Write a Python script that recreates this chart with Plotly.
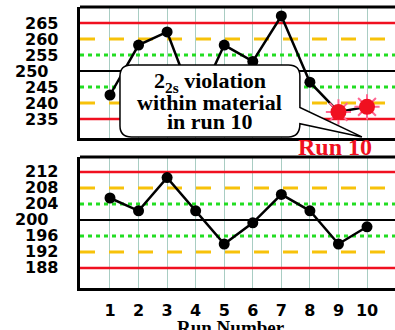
import plotly.graph_objects as go

runs = list(range(1, 11))
top_values = [242.5, 258.1, 262.2, 238.8, 258.1, 253.0, 267.2, 246.5, 237.2, 238.8]
bottom_values = [205.5, 202.3, 210.6, 202.3, 194.0, 199.3, 206.4, 202.3, 194.0, 198.3]
violation_runs = [9, 10]
top_mean, top_sd = 250, 5
bottom_mean, bottom_sd = 200, 4
top_ticks = [235, 240, 245, 250, 255, 260, 265]
bottom_ticks = [188, 192, 196, 200, 204, 208, 212]
x_ticks = runs
x_range = [-0.05, 10.98]

RED = "#f01020"
GOLD = "#f7c20a"
GREEN = "#22dd22"
GRID = "#a9cdc3"
TICKFONT = dict(family="DejaVu Sans", size=16, color="black", weight="bold")
SERIF = "Liberation Serif"

fig = go.Figure()

def ref_lines(mean, sd, xa, ya):
    specs = [(mean, "black", 2, "solid")]
    for k, col, w, dash in [(1, GREEN, 3, "4px,4px"), (2, GOLD, 3, "15px,14px"), (3, RED, 2.5, "solid")]:
        specs.append((mean + k * sd, col, w, dash))
        specs.append((mean - k * sd, col, w, dash))
    for y, col, w, dash in specs:
        fig.add_trace(go.Scatter(x=x_range, y=[y, y], mode="lines", line=dict(color=col, width=w, dash=dash),
                                 xaxis=xa, yaxis=ya, showlegend=False, hoverinfo="skip"))

ref_lines(top_mean, top_sd, "x", "y")
ref_lines(bottom_mean, bottom_sd, "x2", "y2")

# data traces
fig.add_trace(go.Scatter(x=runs, y=top_values, mode="lines", line=dict(color="black", width=2.5),
                         xaxis="x", yaxis="y", showlegend=False, hoverinfo="skip"))
fig.add_trace(go.Scatter(x=runs[:8], y=top_values[:8], mode="markers",
                         marker=dict(color="black", size=11), xaxis="x", yaxis="y", showlegend=False))
viol_y = [top_values[r - 1] for r in violation_runs]
fig.add_trace(go.Scatter(x=violation_runs, y=viol_y, mode="markers",
                         marker=dict(symbol="asterisk-open", size=21, line=dict(color=RED, width=2)),
                         xaxis="x", yaxis="y", showlegend=False))
fig.add_trace(go.Scatter(x=violation_runs, y=viol_y, mode="markers",
                         marker=dict(symbol="circle", color=RED, size=16, line=dict(width=0)),
                         xaxis="x", yaxis="y", showlegend=False))
fig.add_trace(go.Scatter(x=runs, y=bottom_values, mode="lines+markers",
                         line=dict(color="black", width=2.5), marker=dict(color="black", size=11),
                         xaxis="x2", yaxis="y2", showlegend=False))

shapes = []
# top borders of both panels
for xr, yr in [("x", "y"), ("x2", "y2")]:
    shapes.append(dict(type="line", xref=xr + " domain", yref=yr + " domain", x0=0, x1=1, y0=1, y1=1,
                       line=dict(color="black", width=3), layer="above"))

# callout bubble (data coords of top panel)
L, R, T, B = 1.35, 7.65, 251.9, 229.4
rx, ry = 0.4, 3.5
tail_top, tail_bot = 238.6, 233.5
tip_x, tip_y = 9.82, 229.4
path = (f"M {L+rx},{T} L {R-rx},{T} Q {R},{T} {R},{T-ry} L {R},{tail_top} L {tip_x},{tip_y} "
        f"L {R},{tail_bot} Q {R},{B} {R-rx},{B} L {L+rx},{B} Q {L},{B} {L},{B+ry} "
        f"L {L},{T-ry} Q {L},{T} {L+rx},{T} Z")
shapes.append(dict(type="path", xref="x", yref="y", path=path, fillcolor="white",
                   line=dict(color="black", width=1.5), layer="above"))

annotations = []
# y tick labels as annotations (right edge 20px left of the axis; mean label a bit further left)
PLOT_W = 395 - 80
for ticks, mean, yref in [(top_ticks, top_mean, "y"), (bottom_ticks, bottom_mean, "y2")]:
    for v in ticks:
        off = 30 if v == mean else 20
        annotations.append(dict(x=-off / PLOT_W, y=v, xref="paper", yref=yref, text=str(v),
                                showarrow=False, xanchor="right", yanchor="middle", font=TICKFONT))

callout_lines = ["2<sub>2s</sub> violation", "within material", "in run 10"]
callout_y = [246.6, 240.3, 234.1]
for txt, yy in zip(callout_lines, callout_y):
    annotations.append(dict(x=4.5, y=yy, xref="x", yref="y", text=txt, showarrow=False,
                            font=dict(family=SERIF, size=22, color="black", weight="bold")))
annotations.append(dict(x=8.88, y=0.502, xref="x", yref="paper", text="Run 10", showarrow=False,
                        font=dict(family=SERIF, size=24, color=RED, weight="bold")))
annotations.append(dict(x=0.478, y=-0.142, xref="paper", yref="paper", text="Run Number",
                        showarrow=False, yanchor="middle",
                        font=dict(family=SERIF, size=19, color="black", weight="bold")))

xaxis_common = dict(range=x_range, tickvals=x_ticks, showgrid=True, gridcolor=GRID, gridwidth=1,
                    zeroline=False, showline=True, linecolor="black", linewidth=3)
yaxis_common = dict(showgrid=False, zeroline=False, showline=True, linecolor="black", linewidth=3,
                    showticklabels=False, ticks="")

fig.update_layout(
    width=395, height=330,
    margin=dict(l=80, r=0, t=7, b=42),
    paper_bgcolor="white", plot_bgcolor="white",
    xaxis=dict(**xaxis_common, domain=[0, 1], anchor="y", showticklabels=False),
    yaxis=dict(**yaxis_common, domain=[0.5338, 1], anchor="x", range=[229.06, 270]),
    xaxis2=dict(**xaxis_common, domain=[0, 1], anchor="y2", ticks="", ticklabelstandoff=6,
                tickfont=TICKFONT),
    yaxis2=dict(**yaxis_common, domain=[0, 0.4662], anchor="x2", range=[183.0, 215.75]),
    shapes=shapes, annotations=annotations,
)

fig.write_html("out.html", config={"displayModeBar": False},
               post_script="document.body.style.margin='0px';")
